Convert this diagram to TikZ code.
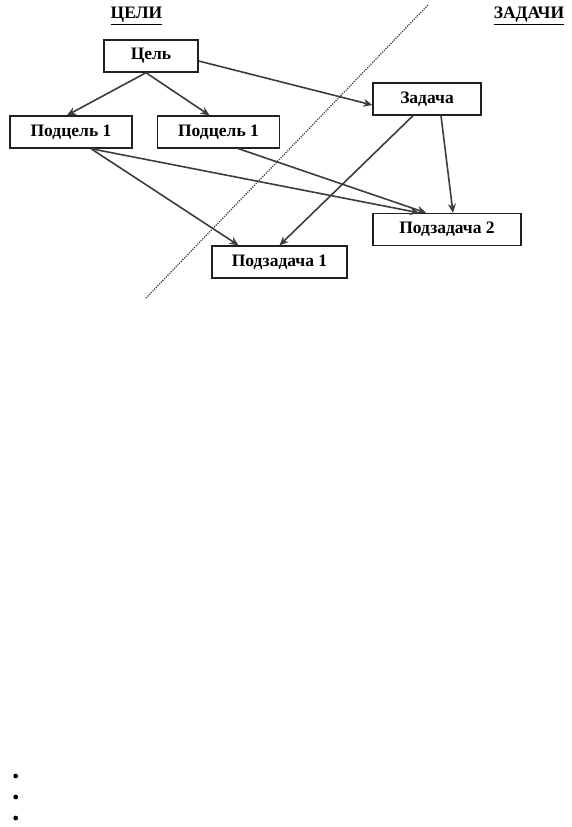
\documentclass[tikz,border=0pt]{standalone}
\usepackage{fontspec}
\setmainfont{Liberation Serif}
\usepackage{xcolor}
\usepackage{tikz}
\usetikzlibrary{arrows.meta, positioning, calc}
\definecolor{boxdraw}{HTML}{202020}
\definecolor{arrdraw}{HTML}{3C3C3C}
\definecolor{sepdraw}{HTML}{404040}
\tikzset{
  blk/.style={rectangle, draw=boxdraw, fill=white, line width=1.4pt, align=center, font=\fontsize{17.5}{19}\selectfont\bfseries, inner sep=2pt, minimum height=32pt},
  goal/.style={blk, minimum width=94pt},
  sub/.style={blk, minimum width=122pt},
  task/.style={blk, minimum width=108pt},
  subtask/.style={blk, minimum width=140pt},
  ttl/.style={font=\fontsize{17.5}{19}\selectfont\bfseries, inner sep=0pt},
  arr/.style={-{Stealth[length=9pt, width=8pt]}, line width=1.6pt, draw=arrdraw},
  sep/.style={dash pattern=on 1.2pt off 1.2pt, line width=1.3pt, draw=sepdraw},
}
\begin{document}
\begin{tikzpicture}[x=1pt, y=-1pt]
  \useasboundingbox (0,0) rectangle (571,827);
  % titles
  \node[ttl] (tGoals) at (136.5,16) {\underline{ЦЕЛИ}};
  \node[ttl] (tTasks) at (529,16) {\underline{ЗАДАЧИ}};
  % border between goals and tasks
  \coordinate (sepTop) at (428,5);
  \coordinate (sepBot) at (146,298);
  \draw[sep] (sepTop) -- (sepBot);
  % boxes
  \node[goal] (goal) at (151,56) {Цель};
  \node[sub] (subL) at (71,132) {Подцель 1};
  \node[sub] (subR) at (218.5,132) {Подцель 1};
  \node[task] (task) at (427,99) {Задача};
  \node[subtask, minimum width=148pt] (st2) at (447,229.5) {Подзадача 2};
  \node[subtask, minimum width=135pt] (st1) at (279.5,262) {Подзадача 1};
  % links
  \draw[arr] ([xshift=-5pt]goal.south) -- ([xshift=-4pt]subL.north);
  \draw[arr] ([xshift=-5pt]goal.south) -- ([xshift=-9pt]subR.north);
  \draw[arr] ([yshift=-5pt]goal.east) -- ([yshift=-6pt]task.west);
  \draw[arr] ([xshift=20pt]subL.south) -- ([xshift=-41pt]st1.north);
  \draw[arr] ([xshift=20pt]subL.south) -- ([xshift=-28pt]st2.north);
  \draw[arr] ([xshift=20pt]subR.south) -- ([xshift=-21pt]st2.north);
  \draw[arr] ([xshift=-14pt]task.south) -- (st1.north);
  \draw[arr] ([xshift=14pt]task.south) -- ([xshift=6pt]st2.north);
  % list marks
  \foreach \y in {776,797,818}
    \fill[black] (15.7,\y) circle (2.4);
\end{tikzpicture}
\end{document}
